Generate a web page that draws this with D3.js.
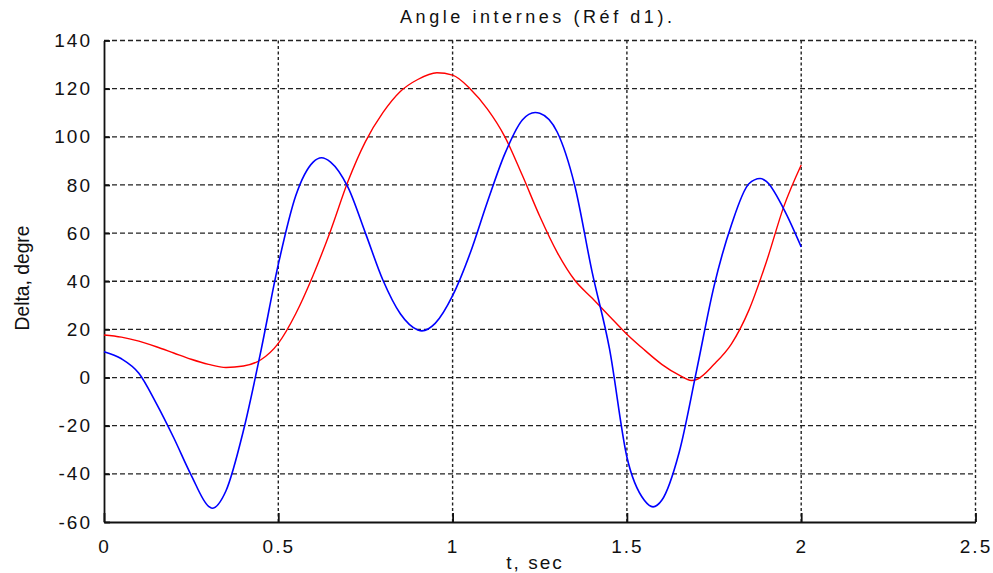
<!DOCTYPE html>
<html>
<head>
<meta charset="utf-8">
<script src="https://cdn.jsdelivr.net/npm/d3@7"></script>
<style>
  body { margin: 0; background: #fff; }
  text { font-family: "Liberation Sans", Arial, sans-serif; fill: #111; }
</style>
</head>
<body>
<div id="chart"></div>
<script>
const times = [0, 0.05, 0.1, 0.15, 0.2, 0.25, 0.3, 0.31, 0.35, 0.4, 0.45, 0.5, 0.55, 0.6, 0.624, 0.65, 0.7, 0.75, 0.8, 0.85, 0.9, 0.912, 0.95,
  1.0, 1.05, 1.1, 1.15, 1.2, 1.237, 1.25, 1.3, 1.35, 1.4, 1.45, 1.5, 1.55, 1.575, 1.6, 1.65, 1.7, 1.75, 1.8, 1.85, 1.882, 1.9, 1.95, 2.0]
// blue curve
const delta1 = [10.7, 7.8, 1.8, -10.7, -25, -40.5, -53.5, -54.3, -47, -22, 11, 47, 75.5, 89.5, 91.3, 89.5, 79, 60, 40.5, 26.5, 19.8, 19.4, 22.5,
  34, 51.5, 73, 93, 107, 110.1, 109.8, 102, 80, 44, 12, -33, -51, -53.7, -51, -31, 3, 38, 63.5, 80.5, 82.7, 81.5, 70, 54.3]

const redTimes = [0, 0.05, 0.1, 0.15, 0.2, 0.25, 0.3, 0.35, 0.4, 0.45, 0.5, 0.55, 0.6, 0.65, 0.7, 0.75, 0.8, 0.85, 0.9, 0.955, 1.0,
  1.05, 1.1, 1.15, 1.2, 1.25, 1.3, 1.35, 1.4, 1.45, 1.5, 1.55, 1.6, 1.65, 1.685, 1.7, 1.75, 1.8, 1.85, 1.9, 1.95, 2.0]
// red curve
const delta2 = [17.7, 16.8, 15.1, 12.8, 10.2, 7.6, 5.5, 4.2, 4.8, 7.4, 14.2, 26.5, 42.5, 61, 81.5, 98, 110, 118.8, 123.8, 126.6, 125.6,
  120, 111.5, 100, 84, 67, 52, 40.5, 33, 25.5, 18, 11.5, 5.5, 1, -1.2, -0.8, 5.5, 14, 28, 48, 71, 88.3]

const xTicks = [0, 0.5, 1, 1.5, 2, 2.5]
const yTicks = [-60, -40, -20, 0, 20, 40, 60, 80, 100, 120, 140]

const W = 993, H = 573
const margin = {top: 40.5, bottom: 51, left: 104, right: 17.5}

const svg = d3.select("#chart").append("svg")
  .attr("width", W)
  .attr("height", H)

const x = d3.scaleLinear().domain([0, 2.5]).range([margin.left, W - margin.right])
const y = d3.scaleLinear().domain([-60, 140]).range([H - margin.bottom, margin.top])

// grid
svg.append("g").selectAll("line").data(yTicks.slice(1)).join("line")
  .attr("x1", x(0)).attr("x2", x(2.5))
  .attr("y1", d => y(d)).attr("y2", d => y(d))
  .attr("stroke", "#222").attr("stroke-width", 1.3)
  .attr("stroke-dasharray", "5,3")

svg.append("g").selectAll("line").data(xTicks.slice(1)).join("line")
  .attr("x1", d => x(d)).attr("x2", d => x(d))
  .attr("y1", y(140)).attr("y2", y(-60))
  .attr("stroke", "#222").attr("stroke-width", 1.4)
  .attr("stroke-dasharray", "3,2.5")

// axes
const xAxis = svg.append("g")
  .attr("transform", "translate(0," + y(-60) + ")")
  .call(d3.axisBottom(x).tickValues(xTicks).tickFormat(d => String(d)).tickSizeInner(-9).tickSizeOuter(0).tickPadding(18))
xAxis.select(".domain").attr("stroke", "#111").attr("stroke-width", 1.8)
xAxis.selectAll(".tick line").attr("stroke", "#111").attr("stroke-width", 1.8)
xAxis.selectAll("text").attr("font-size", 19).attr("letter-spacing", 2).attr("fill", "#111")

const yAxis = svg.append("g")
  .attr("transform", "translate(" + x(0) + ",0)")
  .call(d3.axisLeft(y).tickValues(yTicks).tickFormat(d => String(d)).tickSizeInner(-6).tickSizeOuter(0).tickPadding(12))
yAxis.select(".domain").attr("stroke", "#111").attr("stroke-width", 1.8)
yAxis.selectAll(".tick line").attr("stroke", "#111").attr("stroke-width", 1.8)
yAxis.selectAll("text").attr("font-size", 19).attr("letter-spacing", 2).attr("fill", "#111")

// curves
const line = d3.line().curve(d3.curveMonotoneX)

svg.append("path")
  .datum(redTimes.map((t, i) => [x(t), y(delta2[i])]))
  .attr("d", line)
  .attr("fill", "none").attr("stroke", "#ff0000").attr("stroke-width", 1.4)

svg.append("path")
  .datum(times.map((t, i) => [x(t), y(delta1[i])]))
  .attr("d", line)
  .attr("fill", "none").attr("stroke", "#0000ff").attr("stroke-width", 1.6)

// labels
svg.append("text")
  .attr("x", 536).attr("y", 23)
  .attr("text-anchor", "middle")
  .attr("font-size", 18)
  .attr("textLength", 272).attr("lengthAdjust", "spacing")
  .text("Angle internes (Réf d1).")

svg.append("text")
  .attr("x", 535).attr("y", 569)
  .attr("text-anchor", "middle")
  .attr("font-size", 19)
  .attr("letter-spacing", 2)
  .text("t, sec")

svg.append("text")
  .attr("transform", "translate(29,278) rotate(-90)")
  .attr("text-anchor", "middle")
  .attr("font-size", 20)
  .attr("textLength", 105).attr("lengthAdjust", "spacingAndGlyphs")
  .text("Delta, degre")
</script>
</body>
</html>
